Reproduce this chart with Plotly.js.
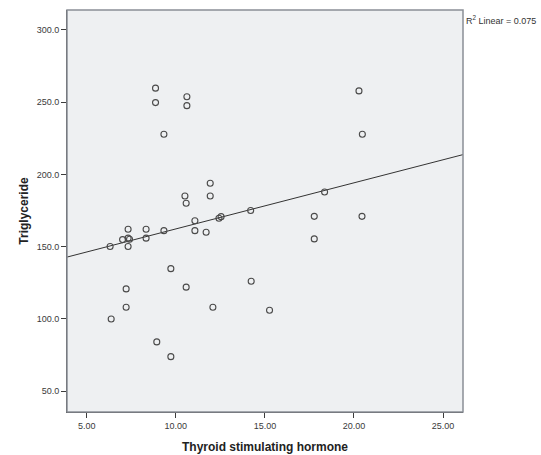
<!DOCTYPE html>
<html>
<head>
<meta charset="utf-8">
<script src="https://cdn.plot.ly/plotly-3.0.1.min.js"></script>
<style>html,body{margin:0;padding:0;background:#fff;}#chart{width:541px;height:455px;}</style>
</head>
<body>
<div id="chart"></div>
<script>
// Thyroid stimulating hormone (x) values
var tsh = [8.86, 8.86, 10.62, 10.62, 9.33, 11.93, 10.51, 11.93, 10.58, 11.07,
           11.07, 11.70, 12.42, 12.54, 9.33, 8.33, 8.33, 7.32, 7.32, 7.01,
           7.32, 6.31, 7.40, 9.72, 7.21, 10.58, 14.23, 7.21, 12.08, 15.26,
           6.37, 8.93, 9.72, 18.35, 17.77, 20.45, 17.77, 14.20, 20.28, 20.47];
// Triglyceride (y) values
var tg = [259.7, 249.7, 253.8, 247.6, 227.8, 193.9, 185.1, 185.1, 180.1, 168.0,
          161.1, 160.0, 169.7, 170.8, 161.1, 162.1, 155.9, 162.1, 155.9, 154.9,
          150.1, 150.1, 155.2, 134.8, 120.8, 122.0, 126.1, 108.1, 108.1, 106.0,
          100.0, 84.1, 73.9, 187.9, 171.0, 171.0, 155.4, 175.0, 257.8, 227.8];
// Fit line
var fitIntercept = 130.4;
var fitSlope = 3.19;
var r2Label = 'R<sup>2</sup> Linear = 0.075';
var xTicks = [5, 10, 15, 20, 25];
var xTickText = ['5.00', '10.00', '15.00', '20.00', '25.00'];
var yTicks = [50, 100, 150, 200, 250, 300];
var yTickText = ['50.0', '100.0', '150.0', '200.0', '250.0', '300.0'];
var xRange = [3.89, 26.12];
var yRange = [35.6, 313.8];

var fitX = [xRange[0], xRange[1]];
var fitY = fitX.map(function (v) { return fitIntercept + fitSlope * v; });

var traces = [
  {
    x: fitX, y: fitY, type: 'scatter', mode: 'lines',
    line: {color: '#333333', width: 1}, hoverinfo: 'skip', showlegend: false
  },
  {
    x: tsh, y: tg, type: 'scatter', mode: 'markers',
    marker: {symbol: 'circle-open', size: 6, color: '#4a4a4a', line: {width: 1.1, color: '#4a4a4a'}},
    showlegend: false
  }
];

var tickFont = {family: 'Liberation Sans, Arial, sans-serif', size: 9, color: '#3a3a3a'};
var layout = {
  width: 541, height: 455,
  margin: {l: 67, r: 78, t: 10, b: 43, pad: 0},
  paper_bgcolor: '#ffffff',
  plot_bgcolor: '#eef0f2',
  showlegend: false,
  xaxis: {
    range: xRange, tickvals: xTicks, ticktext: xTickText,
    showgrid: false, zeroline: false,
    showline: true, linecolor: '#3c3c3c', linewidth: 1,
    ticks: 'outside', ticklen: 5, tickcolor: '#3c3c3c', tickwidth: 1,
    tickfont: tickFont,
    title: {text: 'Thyroid stimulating hormone', standoff: 12,
            font: {family: 'Liberation Sans, Arial, sans-serif', size: 12, color: '#222222', weight: 'bold'}}
  },
  yaxis: {
    range: yRange, tickvals: yTicks, ticktext: yTickText,
    showgrid: false, zeroline: false,
    showline: true, linecolor: '#3c3c3c', linewidth: 1,
    ticks: 'outside', ticklen: 5, tickcolor: '#3c3c3c', tickwidth: 1,
    tickfont: tickFont,
    title: {text: 'Triglyceride', standoff: 5,
            font: {family: 'Liberation Sans, Arial, sans-serif', size: 12, color: '#222222', weight: 'bold'}}
  },
  shapes: [
    {type: 'rect', xref: 'paper', yref: 'paper', x0: 0, x1: 1, y0: 0, y1: 1,
     line: {color: '#8a8f96', width: 1.5}, fillcolor: 'rgba(0,0,0,0)', layer: 'above'}
  ],
  annotations: [
    {text: r2Label, xref: 'paper', yref: 'paper', x: 1, y: 1,
     xanchor: 'left', yanchor: 'top', xshift: 1, yshift: -2, showarrow: false,
     font: {family: 'Liberation Sans, Arial, sans-serif', size: 9, color: '#333333'}}
  ]
};

Plotly.newPlot('chart', traces, layout, {displayModeBar: false, staticPlot: true});
</script>
</body>
</html>
